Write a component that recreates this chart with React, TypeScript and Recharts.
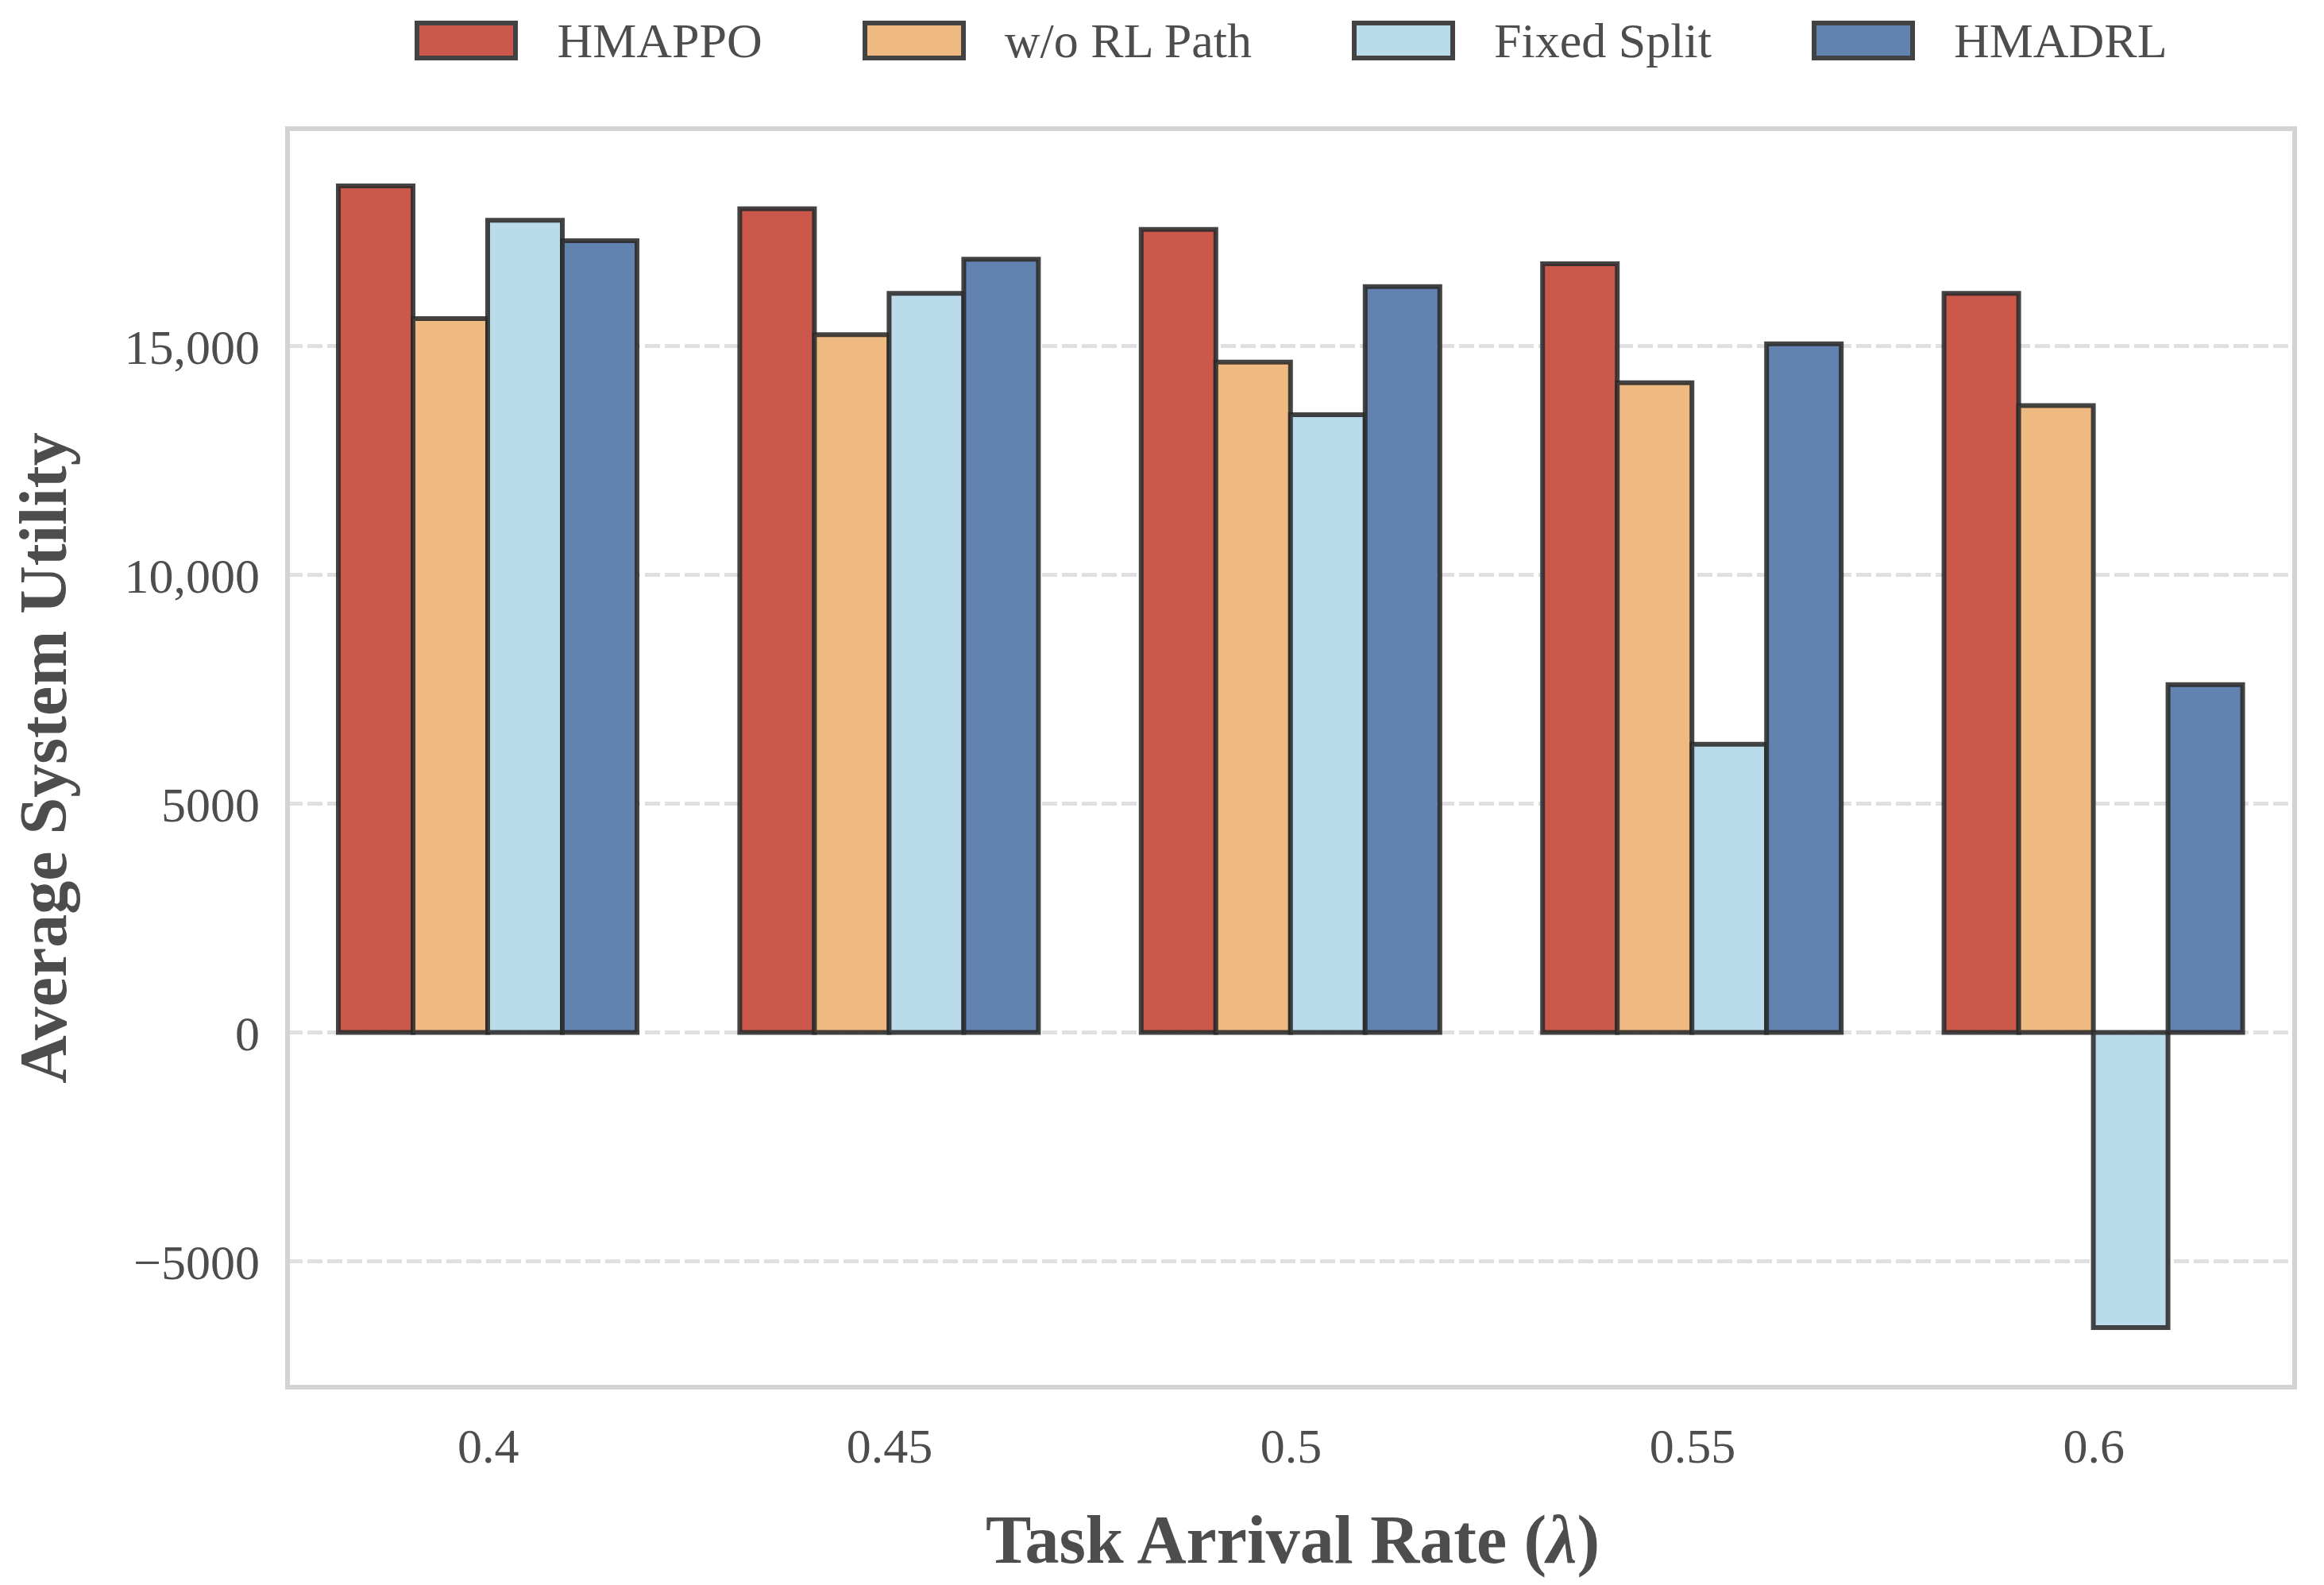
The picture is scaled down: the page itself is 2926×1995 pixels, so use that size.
import React from "react";
import {
  BarChart,
  Bar,
  XAxis,
  YAxis,
  CartesianGrid,
  Legend,
  ReferenceArea,
} from "recharts";

// ---- data ----
const rates = ["0.4", "0.45", "0.5", "0.55", "0.6"];
const hmappo = [18500, 18000, 17550, 16800, 16150];
const woRlPath = [15600, 15250, 14650, 14200, 13700];
const fixedSplit = [17750, 16150, 13500, 6300, -6450];
const hmadrl = [17300, 16900, 16300, 15050, 7600];

const seriesNames = ["HMAPPO", "w/o RL Path", "Fixed Split", "HMADRL"];
const seriesKeys = ["hmappo", "woRlPath", "fixedSplit", "hmadrl"];
const seriesColors = ["#CB584A", "#EFB982", "#B9DBEA", "#6282AF"];

const yDomain = [-7750, 19750];
const yTicks = [-5000, 0, 5000, 10000, 15000];
const yTickLabels = ["\u22125000", "0", "5000", "10,000", "15,000"];

const xTitle = "Task Arrival Rate (";
const xTitleSymbol = "\u03bb";
const yTitle = "Average System Utility";

const data = rates.map((r, i) => ({
  rate: r,
  hmappo: hmappo[i],
  woRlPath: woRlPath[i],
  fixedSplit: fixedSplit[i],
  hmadrl: hmadrl[i],
}));

const FONT = "'Liberation Serif', 'Times New Roman', Times, serif";
const TEXT = "#4d4d4d";
const EDGE = "#2a2a2a";

const LegendContent = () => (
  <div
    style={{
      height: 162,
      boxSizing: "border-box",
      paddingTop: 26,
      display: "flex",
      justifyContent: "center",
      alignItems: "flex-start",
      fontFamily: FONT,
    }}
  >
    {seriesNames.map((name, i) => (
      <div
        key={name}
        style={{
          display: "flex",
          alignItems: "center",
          height: 50,
          marginLeft: i === 0 ? 0 : 126,
        }}
      >
        <div
          style={{
            width: 130,
            height: 50,
            boxSizing: "border-box",
            border: "6px solid #424242",
            background: seriesColors[i],
          }}
        />
        <span
          style={{
            marginLeft: 49,
            fontSize: 62,
            lineHeight: "50px",
            color: TEXT,
            whiteSpace: "nowrap",
          }}
        >
          {name}
        </span>
      </div>
    ))}
  </div>
);

const YTitle = (props: any) => {
  const vb = props.viewBox || {};
  const x = (vb.x || 0) + 83;
  const cy = (vb.y || 0) + (vb.height || 0) / 2;
  return (
    <text
      x={x}
      y={cy}
      transform={`rotate(-90 ${x} ${cy})`}
      textAnchor="middle"
      fontFamily={FONT}
      fontWeight="bold"
      fontSize={84}
      fill={TEXT}
    >
      {yTitle}
    </text>
  );
};

const XTitle = (props: any) => {
  const vb = props.viewBox || {};
  const cx = (vb.x || 0) + (vb.width || 0) / 2 + 2;
  const y = (vb.y || 0) + (vb.height || 0) - 28;
  return (
    <text
      x={cx}
      y={y}
      textAnchor="middle"
      fontFamily={FONT}
      fontWeight="bold"
      fontSize={86}
      fill={TEXT}
    >
      {xTitle}
      <tspan fontStyle="italic">{xTitleSymbol}</tspan>)
    </text>
  );
};

export default function App() {
  return (
    <div
      style={{
        position: "absolute",
        left: 0,
        top: 0,
        width: 2926,
        height: 1995,
        background: "#ffffff",
        fontFamily: FONT,
      }}
    >
      <BarChart
        width={2926}
        height={1995}
        data={data}
        margin={{ top: 0, right: 37, bottom: 0, left: 0 }}
        barCategoryGap={64}
        barGap={0}
      >
        <CartesianGrid
          vertical={false}
          stroke="#e0e0e0"
          strokeWidth={5}
          strokeDasharray="19 6"
        />
        <XAxis
          dataKey="rate"
          type="category"
          height={249}
          interval={0}
          tickLine={false}
          axisLine={false}
          tickSize={0}
          tickMargin={51}
          tick={{ fill: TEXT, fontSize: 62, fontFamily: FONT }}
          label={{ content: (p: any) => <XTitle {...p} /> }}
        />
        <YAxis
          type="number"
          domain={yDomain}
          ticks={yTicks}
          allowDataOverflow
          width={362}
          tickLine={false}
          axisLine={false}
          tickSize={0}
          tickMargin={35}
          tick={{ fill: TEXT, fontSize: 62, fontFamily: FONT }}
          tickFormatter={(v: number) => {
            const idx = yTicks.indexOf(v);
            return idx >= 0 ? yTickLabels[idx] : String(v);
          }}
          label={{ content: (p: any) => <YTitle {...p} /> }}
        />
        <Legend
          verticalAlign="top"
          align="center"
          content={() => <LegendContent />}
          wrapperStyle={{ left: 362, width: 2527, top: 0, height: 162 }}
        />
        {seriesKeys.map((k, i) => (
          <Bar
            key={k}
            dataKey={k}
            name={seriesNames[i]}
            fill={seriesColors[i]}
            stroke={EDGE}
            strokeOpacity={0.88}
            strokeWidth={6}
            isAnimationActive={false}
          />
        ))}
        <ReferenceArea
          y1={yDomain[0]}
          y2={yDomain[1]}
          fill="none"
          fillOpacity={0}
          stroke="#d3d3d3"
          strokeWidth={6}
          ifOverflow="visible"
        />
      </BarChart>
    </div>
  );
}
